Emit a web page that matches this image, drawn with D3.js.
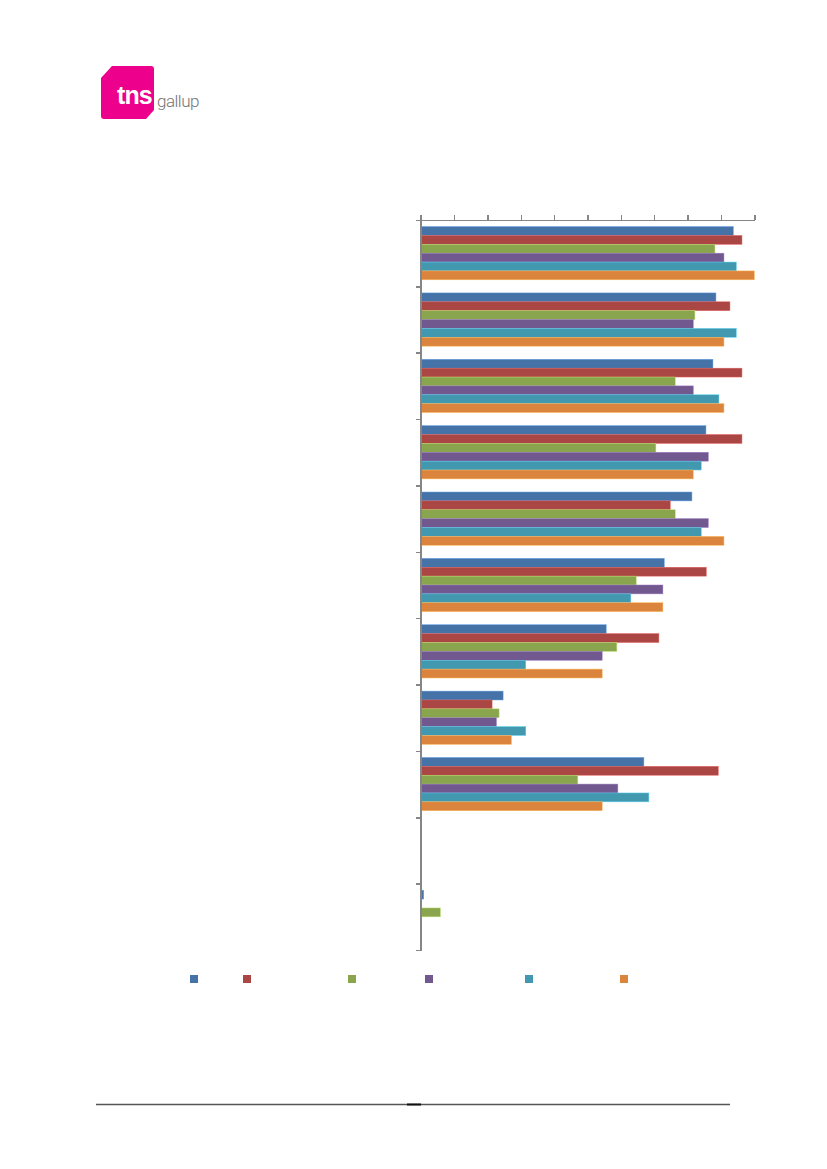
<!DOCTYPE html>
<html lang="da">
<head>
  <meta charset="UTF-8">
  <title>TNS Gallup</title>
  <script src="https://d3js.org/d3.v7.min.js"></script>
  <style>
    html, body {margin: 0; padding: 0; background: #fff;}
    svg {display: block;}
    .axis path, .axis line {stroke: #868686; stroke-width: 1.5; shape-rendering: crispEdges;}
    .axis text {display: none;}
    .logo-tns {font-family: "Liberation Sans", Arial, sans-serif; font-weight: bold; fill: #fff;}
    .logo-gallup {font-family: Roboto, "Liberation Sans", sans-serif; font-weight: 300; fill: #747474;}
  </style>
</head>
<body>
<div id="page"></div>
<script>
// categories top to bottom (labels are not shown in the source picture)
const categories = ["1", "2", "3", "4", "5", "6", "7", "8", "9", "10", "11"];
const seriesNames = ["Serie 1", "Serie 2", "Serie 3", "Serie 4", "Serie 5", "Serie 6"];
const seriesColors = ["#4572a7", "#aa4643", "#89a54e", "#71588f", "#4198af", "#db843d"];

const serie1 = [93.7, 88.5, 87.6, 85.5, 81.3, 73.0, 55.6, 24.7, 66.9, 0, 0.9];
const serie2 = [96.3, 92.7, 96.3, 96.3, 74.8, 85.6, 71.4, 21.4, 89.2, 0, 0];
const serie3 = [88.2, 82.2, 76.3, 70.5, 76.3, 64.6, 58.8, 23.5, 47.1, 0, 5.9];
const serie4 = [90.9, 81.7, 81.7, 86.2, 86.2, 72.6, 54.4, 22.7, 59.1, 0, 0];
const serie5 = [94.6, 94.6, 89.4, 84.1, 84.1, 63.0, 31.5, 31.5, 68.4, 0, 0];
const serie6 = [100, 90.9, 90.9, 81.7, 90.9, 72.6, 54.4, 27.2, 54.4, 0, 0];
const xTicks = [0, 10, 20, 30, 40, 50, 60, 70, 80, 90, 100];

const allSeries = [serie1, serie2, serie3, serie4, serie5, serie6];

const width = 827, height = 1169;
const svg = d3.select("#page").append("svg")
    .attr("width", width)
    .attr("height", height);

// logo
const logo = svg.append("g").attr("transform", "translate(101,66)");
logo.append("path")
    .attr("d", "M0 12 L11 0 L50 0 Q53 0 53 3 L53 44 L45 53 L3 53 Q0 53 0 50 Z")
    .attr("fill", "#ec008c");
logo.append("text")
    .attr("class", "logo-tns")
    .attr("x", 16).attr("y", 37.5)
    .attr("font-size", 25)
    .attr("letter-spacing", -0.9)
    .text("tns");
logo.append("text")
    .attr("class", "logo-gallup")
    .attr("x", 56).attr("y", 40.5)
    .attr("font-size", 17)
    .attr("letter-spacing", -0.5)
    .text("gallup");

// chart
const x = d3.scaleLinear().domain([0, 100]).range([420.7, 754.3]);
const y = d3.scaleBand().domain(categories).range([220, 950]).padding(0);
const ySeries = d3.scaleBand().domain(seriesNames)
    .range([0, y.bandwidth()]).paddingInner(0).paddingOuter(0.74);

const chart = svg.append("g");

seriesNames.forEach((name, si) => {
  const c = seriesColors[si];
  chart.append("g")
    .selectAll("rect")
    .data(allSeries[si].map((v, i) => ({cat: categories[i], value: v})).filter(d => d.value > 0))
    .join("rect")
      .attr("x", x(0))
      .attr("y", d => y(d.cat) + ySeries(name))
      .attr("width", d => x(d.value) - x(0))
      .attr("height", ySeries.bandwidth())
      .attr("fill", c)
      .attr("stroke", d3.color(c).brighter(0.9))
      .attr("stroke-width", 0.5);
});

// axes
svg.append("g")
    .attr("class", "axis")
    .attr("transform", `translate(0,220)`)
    .call(d3.axisTop(x).tickValues(xTicks).tickSize(5).tickSizeOuter(0).tickFormat(""));

const yEdges = d3.scaleLinear().domain([0, categories.length]).range([220, 950]);
svg.append("g")
    .attr("class", "axis")
    .attr("transform", `translate(${x(0)},0)`)
    .call(d3.axisLeft(yEdges).tickValues(d3.range(categories.length + 1)).tickSize(5).tickSizeOuter(0).tickFormat(""));

// legend (only the colour keys are visible)
const legendX = [190, 243, 348, 425, 525, 620];
svg.append("g").selectAll("rect")
  .data(seriesNames)
  .join("rect")
    .attr("x", (d, i) => legendX[i])
    .attr("y", 975)
    .attr("width", 8)
    .attr("height", 8)
    .attr("fill", (d, i) => seriesColors[i]);

// footer rule
svg.append("line")
    .attr("x1", 96).attr("x2", 730)
    .attr("y1", 1104.5).attr("y2", 1104.5)
    .attr("stroke", "#555").attr("stroke-width", 1.3);
svg.append("line")
    .attr("x1", 407).attr("x2", 421)
    .attr("y1", 1104.5).attr("y2", 1104.5)
    .attr("stroke", "#111").attr("stroke-width", 2);
</script>
</body>
</html>
